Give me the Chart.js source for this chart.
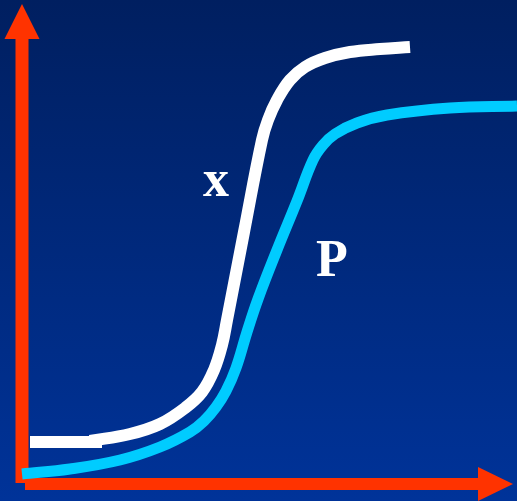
<!DOCTYPE html>
<html>
<head>
<meta charset="utf-8">
<script src="https://cdn.jsdelivr.net/npm/chart.js@4"></script>
<style>
  html, body { margin: 0; padding: 0; background: #002a7a; }
  #chart { display: block; }
</style>
</head>
<body>
<canvas id="chart" width="517" height="501"></canvas>
<script>
// time axis / response values (origin at the axes corner)
const xTime = [68, 108, 138, 163, 180, 192, 200, 205, 222, 240, 246, 255, 268, 283, 303, 328, 358, 388];
const xValues = [43, 50, 60, 76, 92, 114, 139, 164, 252, 344, 364, 384, 404, 417, 426, 432, 435, 437];
const xStartTime = [8, 80];
const xStartValues = [42, 42];
const pTime = [0, 48, 98, 138, 168, 182, 194, 204, 214, 225, 236, 255, 275, 291, 301, 313, 335, 365, 428, 495];
const pValues = [10, 15, 24, 37, 52, 63, 77, 93, 116, 152, 185, 234, 283, 324, 339, 350, 361, 369, 376, 378];
const labelNames = ['x', 'P'];
const labelTime = [194, 310];
const labelValues = [301, 221];

function pts(xs, ys) {
  return xs.map((v, i) => ({ x: v, y: ys[i] }));
}

const backgroundPlugin = {
  id: 'bg',
  beforeDraw(chart) {
    const c = chart.ctx;
    const g = c.createLinearGradient(0, 0, 0, chart.height);
    g.addColorStop(0, '#001f60');
    g.addColorStop(1, '#003399');
    c.save();
    c.fillStyle = g;
    c.fillRect(0, 0, chart.width, chart.height);
    c.restore();
  }
};

// red axes with arrow heads, drawn under the curves
const axesPlugin = {
  id: 'axes',
  beforeDatasetsDraw(chart) {
    const c = chart.ctx;
    const xs = chart.scales.x, ys = chart.scales.y;
    const X = v => xs.getPixelForValue(v);
    const Y = v => ys.getPixelForValue(v);
    c.save();
    c.fillStyle = '#ff3300';
    // vertical bar
    c.fillRect(X(-6.5), Y(445), 13, Y(1) - Y(445));
    // horizontal bar
    c.fillRect(X(3), Y(6), X(456) - X(3), 12);
    // up arrow
    c.beginPath();
    c.moveTo(X(0), Y(480));
    c.lineTo(X(-17.5), Y(445));
    c.lineTo(X(17.5), Y(445));
    c.closePath();
    c.fill();
    // right arrow
    c.beginPath();
    c.moveTo(X(491), Y(0));
    c.lineTo(X(456), Y(17));
    c.lineTo(X(456), Y(-17));
    c.closePath();
    c.fill();
    c.restore();
  },
  afterDatasetsDraw(chart) {
    const c = chart.ctx;
    const xs = chart.scales.x, ys = chart.scales.y;
    c.save();
    c.fillStyle = '#ffffff';
    c.font = 'bold 52px "Liberation Serif", "DejaVu Serif", serif';
    c.textAlign = 'center';
    c.textBaseline = 'middle';
    labelNames.forEach((t, i) => {
      c.fillText(t, xs.getPixelForValue(labelTime[i]), ys.getPixelForValue(labelValues[i]));
    });
    c.restore();
  }
};

new Chart(document.getElementById('chart').getContext('2d'), {
  type: 'scatter',
  data: {
    datasets: [
      {
        label: 'P',
        data: pts(pTime, pValues),
        showLine: true,
        borderColor: '#00ccff',
        borderWidth: 11,
        pointRadius: 0,
        tension: 0.4
      },
      {
        label: 'x start',
        data: pts(xStartTime, xStartValues),
        showLine: true,
        borderColor: '#ffffff',
        borderWidth: 12,
        borderCapStyle: 'butt',
        pointRadius: 0
      },
      {
        label: 'x',
        data: pts(xTime, xValues),
        showLine: true,
        borderColor: '#ffffff',
        borderWidth: 12,
        pointRadius: 0,
        tension: 0.4
      }
    ]
  },
  options: {
    responsive: false,
    animation: false,
    layout: { padding: 0 },
    plugins: { legend: { display: false }, tooltip: { enabled: false } },
    scales: {
      x: { type: 'linear', display: false, min: -22, max: 495 },
      y: { type: 'linear', display: false, min: -17, max: 484 }
    }
  },
  plugins: [backgroundPlugin, axesPlugin]
});
</script>
</body>
</html>
